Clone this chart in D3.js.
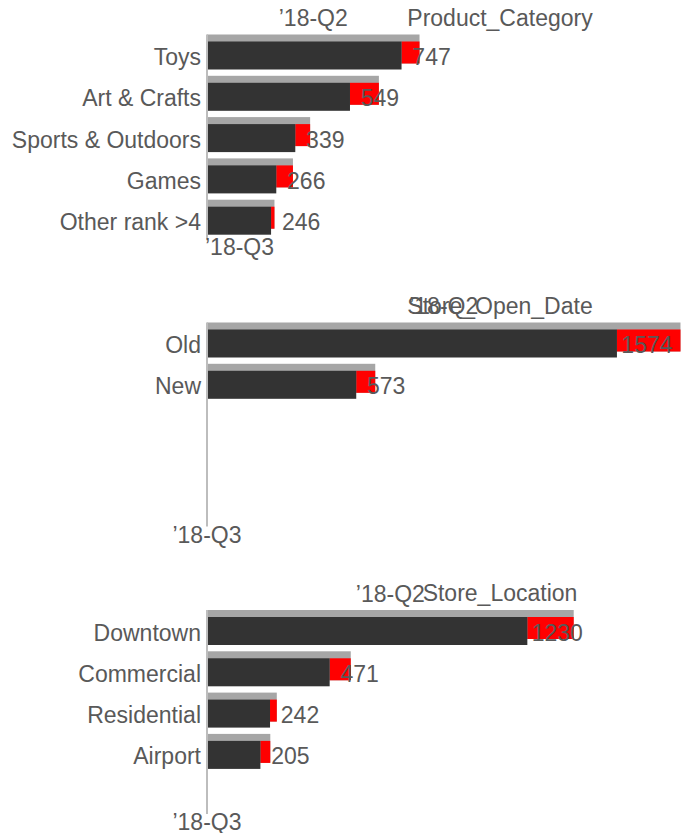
<!DOCTYPE html>
<html>
<head>
<meta charset="utf-8">
<script src="https://cdn.jsdelivr.net/npm/d3@7"></script>
<style>
  html, body { margin: 0; padding: 0; background: #fff; }
  svg { display: block; }
  text { font-family: "Liberation Sans", Arial, sans-serif; font-size: 23px; fill: #595959; }
</style>
</head>
<body>
<svg id="chart" width="681" height="833"></svg>
<script>
// Period labels
const prevPeriod = "\u201918-Q2";
const currPeriod = "\u201918-Q3";

// Dimension 1: product category
const categoryNames = ["Toys", "Art & Crafts", "Sports & Outdoors", "Games", "Other rank >4"];
const categoryQ2 = [816, 660, 396, 330, 259];
const categoryQ3 = [747, 549, 339, 266, 246];

// Dimension 2: store open date
const openDateNames = ["Old", "New"];
const openDateQ2 = [1818, 646];
const openDateQ3 = [1574, 573];

// Dimension 3: store location
const locationNames = ["Downtown", "Commercial", "Residential", "Airport"];
const locationQ2 = [1408, 552, 268, 243];
const locationQ3 = [1230, 471, 242, 205];

const panels = [
  { title: "Product_Category", names: categoryNames, q2: categoryQ2, q3: categoryQ3, q3Anchor: "start" },
  { title: "Store_Open_Date", names: openDateNames, q2: openDateQ2, q3: openDateQ3, q3Anchor: "middle" },
  { title: "Store_Location", names: locationNames, q2: locationQ2, q3: locationQ3, q3Anchor: "middle" }
];

const W = 681;
const axisX = 207;
const panelTops = [34.5, 322.5, 610];
const slots = 5;          // rows reserved in every panel
const plotH = 206.5;      // height of one panel's bar area
const stripH = 7;         // visible part of the previous-period bar above the current one
const barH = 28;

const svg = d3.select("#chart");

// One value scale shared by all three panels
const x = d3.scaleLinear().domain([0, 1820]).range([axisX, W]);

panels.forEach((p, i) => {
  const top = panelTops[i];
  const rows = p.names.map((name, j) => ({ name, q2: p.q2[j], q3: p.q3[j] }));

  const y = d3.scaleBand()
    .domain(d3.range(slots))
    .range([top, top + plotH]);

  const g = svg.append("g");

  // previous period (grey, sits behind)
  g.selectAll("rect.prev").data(rows).join("rect")
    .attr("class", "prev")
    .attr("x", x(0))
    .attr("y", (d, j) => y(j))
    .attr("width", d => Math.min(x(d.q2), W) - x(0))
    .attr("height", stripH + barH - 6)
    .attr("fill", "#a6a6a6");

  // change between periods (red where the value dropped)
  g.selectAll("rect.delta").data(rows).join("rect")
    .attr("class", "delta")
    .attr("x", d => x(Math.min(d.q2, d.q3)))
    .attr("y", (d, j) => y(j) + stripH)
    .attr("width", d => Math.min(Math.abs(x(d.q2) - x(d.q3)), W - x(Math.min(d.q2, d.q3))))
    .attr("height", barH - 6)
    .attr("fill", d => d.q3 < d.q2 ? "#ff0000" : "#2ca02c");

  // current period (dark)
  g.selectAll("rect.curr").data(rows).join("rect")
    .attr("class", "curr")
    .attr("x", x(0))
    .attr("y", (d, j) => y(j) + stripH)
    .attr("width", d => x(d.q3) - x(0))
    .attr("height", barH)
    .attr("fill", "#333333");

  // vertical baseline
  svg.append("line")
    .attr("x1", axisX).attr("x2", axisX)
    .attr("y1", top).attr("y2", top + 204)
    .attr("stroke", "#bdbdbd")
    .attr("stroke-width", 2);

  const labelY = j => y(j) + stripH + barH / 2 + 1.5;

  // category labels
  svg.selectAll(null).data(rows).join("text")
    .attr("x", axisX - 6)
    .attr("y", (d, j) => labelY(j))
    .attr("dy", "0.35em")
    .attr("text-anchor", "end")
    .text(d => d.name);

  // value labels (current period)
  svg.selectAll(null).data(rows).join("text")
    .attr("x", d => x(d.q3) + 30)
    .attr("y", (d, j) => labelY(j))
    .attr("dy", "0.35em")
    .attr("text-anchor", "middle")
    .text(d => d.q3);

  // dimension title
  svg.append("text")
    .attr("x", 500)
    .attr("y", top - 9)
    .attr("text-anchor", "middle")
    .text(p.title);

  // previous-period marker, centred over the longest grey bar
  const maxQ2 = d3.max(rows, d => d.q2);
  svg.append("text")
    .attr("x", (x(0) + Math.min(x(maxQ2), W)) / 2)
    .attr("y", top - 8.5)
    .attr("text-anchor", "middle")
    .text(prevPeriod);

  // current-period marker under the baseline
  svg.append("text")
    .attr("x", p.q3Anchor === "start" ? axisX - 2 : axisX)
    .attr("y", top + 220)
    .attr("text-anchor", p.q3Anchor)
    .text(currPeriod);
});
</script>
</body>
</html>
